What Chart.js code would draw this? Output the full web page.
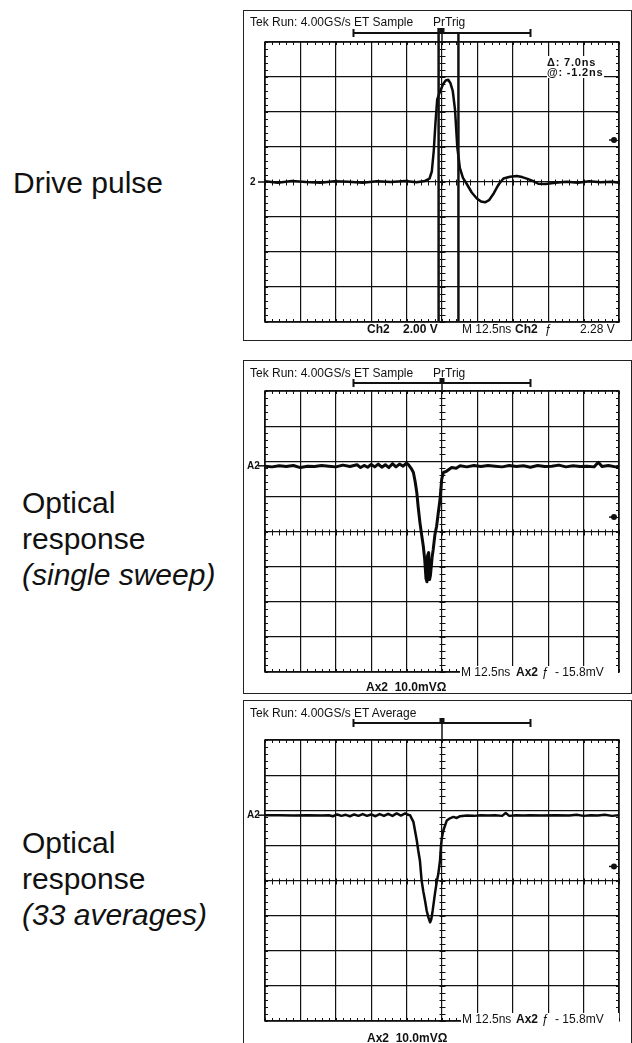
<!DOCTYPE html>
<html>
<head>
<meta charset="utf-8">
<script src="https://cdn.jsdelivr.net/npm/chart.js@4.4.0/dist/chart.umd.min.js"></script>
<style>
  html, body { margin: 0; padding: 0; background: #fff; }
  #page { position: relative; width: 632px; height: 1043px; overflow: hidden;
          font-family: "Liberation Sans", Arial, sans-serif; color: #111; }
  .label { position: absolute; font-size: 30px; line-height: 36px; white-space: nowrap; }
  .frame { position: absolute; left: 243px; width: 389px; border: 1px solid #222; box-sizing: border-box; }
  canvas { position: absolute; left: 243px; }
  .t { position: absolute; font-size: 12px; line-height: 12px; white-space: nowrap; }
  .b { font-weight: bold; }
  .w { background: #fff; padding: 0 1px; }
  .cur { position: absolute; left: 547px; top: 56px; width: 57px; background: #fff;
         font-size: 11px; line-height: 10px; font-weight: bold; letter-spacing: 0.8px; padding: 1px 0; }
</style>
</head>
<body>
<div id="page">
  <div class="label" style="left:13px; top:165px;">Drive pulse</div>
  <div class="label" style="left:22px; top:485px;">Optical<br>response<br><i>(single sweep)</i></div>
  <div class="label" style="left:22px; top:825px;">Optical<br>response<br><i>(33 averages)</i></div>

  <div class="frame" style="top:10px; height:331px;"></div>
  <div class="frame" style="top:360px; height:334px;"></div>
  <div class="frame" style="top:700px; height:360px;"></div>

  <canvas id="scope1" width="389" height="331" style="top:10px;"></canvas>
  <canvas id="scope2" width="389" height="334" style="top:360px;"></canvas>
  <canvas id="scope3" width="389" height="343" style="top:700px;"></canvas>

  <!-- panel 1 readouts -->
  <div class="t" style="left:250px; top:16px;">Tek Run: 4.00GS/s ET Sample</div>
  <div class="t" style="left:433px; top:16px;">PrTrig</div>
  <div class="cur">&Delta;: 7.0ns<br>@: -1.2ns</div>
  <div class="t b" style="left:367px; top:323px;">Ch2</div>
  <div class="t b" style="left:403px; top:323px;">2.00 V</div>
  <div class="t" style="left:462px; top:323px;">M 12.5ns</div>
  <div class="t b" style="left:515px; top:323px;">Ch2</div>
  <div class="t" style="left:545px; top:323px;">ƒ</div>
  <div class="t" style="left:580px; top:323px;">2.28 V</div>
  <div class="t b lvl" id="lvl1" style="left:250px; font-size:10px;">2</div>

  <!-- panel 2 readouts -->
  <div class="t" style="left:250px; top:367px;">Tek Run: 4.00GS/s ET Sample</div>
  <div class="t" style="left:433px; top:367px;">PrTrig</div>
  <div class="t w" style="left:460px; top:666px; width:156px;">M 12.5ns</div>
  <div class="t b" style="left:516px; top:666px;">Ax2</div>
  <div class="t" style="left:542px; top:666px;">ƒ</div>
  <div class="t" style="left:555px; top:666px;">- 15.8mV</div>
  <div class="t b" style="left:366px; top:681px;">Ax2&nbsp; 10.0mVΩ</div>
  <div class="t b lvl" id="lvl2" style="left:247px; font-size:10px;">A2</div>

  <!-- panel 3 readouts -->
  <div class="t" style="left:250px; top:707px;">Tek Run: 4.00GS/s ET Average</div>
  <div class="t w" style="left:461px; top:1013px; width:156px;">M 12.5ns</div>
  <div class="t b" style="left:516px; top:1013px;">Ax2</div>
  <div class="t" style="left:542px; top:1013px;">ƒ</div>
  <div class="t" style="left:555px; top:1013px;">- 15.8mV</div>
  <div class="t b" style="left:367px; top:1032px;">Ax2&nbsp; 10.0mVΩ</div>
  <div class="t b lvl" id="lvl3" style="left:247px; font-size:10px;">A2</div>
</div>

<script>
// time in ns relative to the trigger (12.5 ns/div), amplitude in screen divisions
const driveT = [-62.5, -58, -53, -48, -43, -38, -33, -28, -23, -18, -13, -9, -6, -4.4, -3.6, -2.9, -2.3, -1.7, -1.1, -0.5,
  0.4, 1.3, 2.2, 3.0, 3.8, 4.6, 5.4, 6.3, 7.4, 8.7, 10.5, 12.3, 13.8, 15.2, 16.6, 18.3, 19.9, 21.7, 24.0, 26.4,
  28.3, 30.2, 32.0, 34.0, 36.5, 40, 44, 48, 52, 56, 60, 62.5];
const driveV = [0.02, -0.02, 0.03, 0.0, -0.02, 0.02, 0.01, -0.02, 0.02, 0.0, 0.03, -0.01, 0.03, 0.1, 0.3, 0.9, 1.7, 2.35, 2.5, 2.62,
  2.8, 2.9, 2.92, 2.82, 2.6, 2.06, 1.0, 0.4, 0.12, -0.05, -0.3, -0.47, -0.56, -0.58, -0.52, -0.32, -0.08, 0.1, 0.15, 0.17,
  0.14, 0.09, 0.03, -0.05, -0.06, -0.02, 0.01, -0.02, 0.02, -0.01, 0.01, -0.02];

const sweepT = [-62.5, -60, -57.5, -55, -52.5, -50, -47.5, -45, -42.5, -40, -37.5, -35, -32.5, -30, -28.75, -27.5, -26.25, -25,
  -23.75, -22.5, -21.25, -20, -18.75, -17.5, -16.25, -15, -13.75, -12.5, -11.8, -10.9, -10.1, -9.5, -8.9, -8.4, -7.8, -7.2,
  -6.6, -6.1, -5.65, -5.3, -5.1, -4.7, -4.4, -4.1, -3.5, -3.1, -2.5, -1.9, -1.3, -0.7, -0.1, 0.5, 1.7, 3.4, 5.0, 6.4,
  8.75, 11.25, 13.75, 16.25, 18.75, 21.25, 23.75, 26.25, 28.75, 31.25, 33.75, 36.25, 38.75, 41.25, 43.75, 46.25, 48.75,
  51.25, 53.75, 55.2, 56.5, 58.75, 61.25, 62.5];
const sweepV = [1.86, 1.84, 1.87, 1.85, 1.88, 1.82, 1.86, 1.85, 1.88, 1.86, 1.84, 1.89, 1.85, 1.9, 1.82, 1.88, 1.83, 1.91,
  1.84, 1.92, 1.83, 1.9, 1.82, 1.93, 1.84, 1.92, 1.86, 1.95, 1.9, 1.8, 1.68, 1.43, 1.11, 0.69, 0.26, -0.09,
  -0.42, -0.8, -1.34, -1.43, -0.69, -0.6, -1.37, -1.26, -0.74, -0.51, -0.09, 0.15, 0.54, 0.91, 1.49, 1.68, 1.72, 1.82, 1.8, 1.87,
  1.84, 1.88, 1.85, 1.88, 1.86, 1.84, 1.88, 1.85, 1.87, 1.83, 1.88, 1.85, 1.86, 1.89, 1.84, 1.87, 1.85,
  1.86, 1.84, 1.97, 1.85, 1.88, 1.84, 1.86];

const avgT = [-62.5, -57.5, -52.5, -47.5, -42.5, -40, -38.5, -37, -35.5, -34, -32.5, -31, -29.5, -28, -26.5, -25, -23.5, -22,
  -20.5, -19, -17.5, -16, -14.5, -13, -12, -11.3, -10.1, -8.9, -8.4, -7.8, -7.2, -6.6, -6.0, -5.4, -4.8, -4.2, -3.8, -3.3,
  -2.5, -1.9, -1.3, -0.7, -0.35, 0, 0.5, 1.1, 1.7, 2.8, 4.0, 5.2, 6.4, 8.75, 11.25, 13.75, 16.25, 18.75, 21.25, 22.5,
  23.75, 26.25, 28.75, 31.25, 35, 40, 45, 47.5, 50, 52.5, 55, 57.5, 60, 62.5];
const avgV = [1.86, 1.86, 1.85, 1.86, 1.85, 1.86, 1.83, 1.88, 1.84, 1.87, 1.83, 1.88, 1.84, 1.89, 1.84, 1.88, 1.83, 1.89,
  1.84, 1.9, 1.84, 1.91, 1.85, 1.91, 1.87, 1.86, 1.67, 1.14, 0.86, 0.57, 0.0, -0.31, -0.57, -0.86, -1.05, -1.19, -1.11, -0.86,
  -0.38, -0.06, 0.19, 0.57, 1.0, 1.24, 1.43, 1.57, 1.71, 1.77, 1.81, 1.78, 1.83, 1.85, 1.84, 1.86, 1.85, 1.86, 1.84, 1.92,
  1.84, 1.86, 1.85, 1.86, 1.85, 1.86, 1.85, 1.87, 1.84, 1.86, 1.85, 1.87, 1.84, 1.86];

const cursorTimes = [-1.2, 5.8];          // delta 7.0 ns, @ -1.2 ns
const recordWindow = [-31.25, 31.25];     // record bar above the graticule
const groundLevels = [0, 1.87, 1.86];     // channel reference markers (div)
const triggerLevels = [1.2, 0.41, 0.4];   // trigger level markers (div)

// graticule: minor ticks on the centre axes and along the edges
const graticule = {
  id: 'graticule',
  beforeDatasetsDraw(chart) {
    const { ctx, chartArea: a, scales: { x, y } } = chart;
    const x0 = Math.round(x.getPixelForValue(0)) + 0.5;
    const y0 = Math.round(y.getPixelForValue(0)) + 0.5;
    ctx.save();
    ctx.strokeStyle = '#111';
    ctx.lineWidth = 1;
    ctx.beginPath();
    for (let k = -25; k <= 25; k++) {
      const px = Math.round(x.getPixelForValue(k * 2.5)) + 0.5;
      ctx.moveTo(px, y0 - 3); ctx.lineTo(px, y0 + 3);
      ctx.moveTo(px, a.top); ctx.lineTo(px, a.top + 3);
      ctx.moveTo(px, a.bottom); ctx.lineTo(px, a.bottom - 3);
    }
    for (let k = -20; k <= 20; k++) {
      const py = Math.round(y.getPixelForValue(k * 0.2)) + 0.5;
      ctx.moveTo(x0 - 3, py); ctx.lineTo(x0 + 3, py);
      ctx.moveTo(a.left, py); ctx.lineTo(a.left + 3, py);
      ctx.moveTo(a.right, py); ctx.lineTo(a.right - 3, py);
    }
    ctx.stroke();
    ctx.lineWidth = 1.5;
    ctx.strokeRect(a.left, a.top, a.width, a.height);
    ctx.restore();
  }
};

// scope markers: record bar, trigger point, trigger level, reference arrow, cursors
const scopeMarks = {
  id: 'scopeMarks',
  afterDatasetsDraw(chart, args, opts) {
    const { ctx, chartArea: a, scales: { x, y } } = chart;
    const x0 = x.getPixelForValue(0);
    const by = opts.barY;
    ctx.save();
    ctx.strokeStyle = '#111';
    ctx.fillStyle = '#111';
    ctx.lineWidth = 2;
    const xa = x.getPixelForValue(recordWindow[0]);
    const xb = x.getPixelForValue(recordWindow[1]);
    ctx.beginPath();
    ctx.moveTo(xa, by); ctx.lineTo(xb, by);
    ctx.moveTo(xa, by - 4); ctx.lineTo(xa, by + 4);
    ctx.moveTo(xb, by - 4); ctx.lineTo(xb, by + 4);
    ctx.stroke();
    ctx.fillRect(x0 - 2.5, by - 5, 5, 4);
    ctx.lineWidth = 1.5;
    ctx.beginPath();
    ctx.moveTo(x0, by - 2); ctx.lineTo(x0, a.top + 2);
    ctx.stroke();

    // trigger level marker on the right edge
    const ty = y.getPixelForValue(opts.trig);
    ctx.beginPath();
    ctx.arc(a.right - 5, ty, 3, 0, Math.PI * 2);
    ctx.fill();
    ctx.lineWidth = 1.5;
    ctx.beginPath();
    ctx.moveTo(a.right - 10, ty); ctx.lineTo(a.right - 5, ty);
    ctx.stroke();

    // channel reference arrow on the left edge
    const gy = y.getPixelForValue(opts.ground);
    ctx.beginPath();
    ctx.moveTo(a.left - 7, gy); ctx.lineTo(a.left, gy);
    ctx.stroke();

    if (opts.cursors) {
      ctx.lineWidth = 2.5;
      opts.cursors.forEach((t, i) => {
        const cx = x.getPixelForValue(t);
        ctx.beginPath();
        ctx.moveTo(cx, by - 5 + i * 4); ctx.lineTo(cx, a.bottom);
        ctx.stroke();
      });
    }
    ctx.restore();
  }
};

function makeScope(id, times, values, cfg) {
  const canvas = document.getElementById(id);
  const points = times.map((t, i) => ({ x: t, y: values[i] }));
  const gridStyle = { color: '#111', lineWidth: 1.2, drawTicks: false };
  const chart = new Chart(canvas, {
    type: 'line',
    data: {
      datasets: [{
        data: points,
        borderColor: '#0a0a0a',
        borderWidth: cfg.lineWidth,
        pointRadius: 0,
        tension: 0,
        fill: false,
        borderJoinStyle: 'round',
        borderCapStyle: 'round'
      }]
    },
    options: {
      responsive: false,
      animation: false,
      events: [],
      layout: {
        autoPadding: false,
        padding: { left: 22, right: 13, top: cfg.gridTop - cfg.top, bottom: canvas.height - (cfg.gridBottom - cfg.top) }
      },
      plugins: {
        legend: { display: false },
        tooltip: { enabled: false },
        scopeMarks: { barY: cfg.barY - cfg.top, trig: cfg.trig, ground: cfg.ground, cursors: cfg.cursors }
      },
      scales: {
        x: {
          type: 'linear', min: -62.5, max: 62.5,
          ticks: { stepSize: 12.5, display: false },
          grid: gridStyle,
          border: { display: false }
        },
        y: {
          type: 'linear', min: -4, max: 4,
          ticks: { stepSize: 1, display: false },
          grid: gridStyle,
          border: { display: false }
        }
      }
    },
    plugins: [graticule, scopeMarks]
  });

  // place the channel reference label next to its arrow
  const lvl = document.getElementById(cfg.label);
  lvl.style.top = (cfg.top + chart.scales.y.getPixelForValue(cfg.ground) - 6) + 'px';
  return chart;
}

document.addEventListener('DOMContentLoaded', () => {
  makeScope('scope1', driveT, driveV,
    { top: 10, gridTop: 42, gridBottom: 322, barY: 33, lineWidth: 2.5,
      trig: triggerLevels[0], ground: groundLevels[0], cursors: cursorTimes, label: 'lvl1' });
  makeScope('scope2', sweepT, sweepV,
    { top: 360, gridTop: 391, gridBottom: 672, barY: 383, lineWidth: 3,
      trig: triggerLevels[1], ground: groundLevels[1], cursors: null, label: 'lvl2' });
  makeScope('scope3', avgT, avgV,
    { top: 700, gridTop: 740, gridBottom: 1021, barY: 723, lineWidth: 2.5,
      trig: triggerLevels[2], ground: groundLevels[2], cursors: null, label: 'lvl3' });
});
</script>
</body>
</html>
